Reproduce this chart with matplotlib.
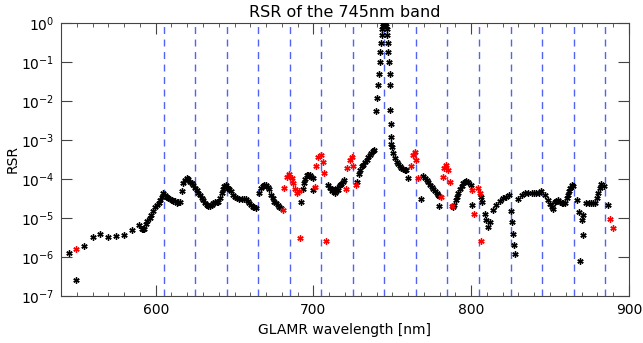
import numpy as np
import matplotlib.pyplot as plt
from matplotlib.ticker import FixedLocator, MultipleLocator, NullLocator, LogFormatterSciNotation

plt.rcParams.update({'font.size': 10, 'font.family': 'DejaVu Sans'})

# relative spectral response
black_wl = [545.0, 549.5, 554.8, 560.1, 564.9, 569.8, 574.9, 580.1, 584.8, 589.6,
            591.1, 591.8, 592.8, 593.9, 594.7, 596.4, 597.3, 598.1, 599.6, 601.0,
            602.3, 602.7, 603.8, 604.8, 606.0, 607.0, 608.0, 609.1, 610.2, 611.2,
            612.3, 613.3, 614.4, 615.4, 616.5, 617.5, 618.6, 619.7, 620.7, 621.7,
            622.7, 623.8, 624.9, 626.0, 627.0, 628.1, 629.1, 630.2, 631.2, 632.3,
            633.3, 634.4, 635.4, 636.5, 637.5, 638.6, 639.7, 640.7, 641.8, 642.9,
            643.6, 644.6, 645.6, 646.7, 647.7, 648.8, 650.0, 651.3, 652.9, 654.5,
            655.8, 657.2, 658.3, 659.3, 660.4, 661.5, 662.5, 663.6, 665.7, 666.7,
            667.8, 668.9, 669.9, 671.0, 672.0, 673.1, 674.2, 675.2, 676.2, 677.3,
            678.3, 679.4, 692.1, 693.2, 694.0, 694.8, 695.7, 696.7, 697.8, 698.7,
            699.5, 699.9, 709.4, 710.4, 711.5, 712.0, 712.6, 713.5, 714.0, 714.7,
            715.5, 716.8, 717.8, 718.9, 719.5, 727.8, 728.7, 729.5, 730.5, 731.6,
            732.6, 733.7, 734.7, 735.8, 736.8, 737.9, 738.4, 739.4,
            740.5, 741.0, 741.5, 742.0, 742.4, 742.8, 743.2, 743.6, 744.0, 744.4,
            744.8, 745.2, 745.6, 746.0, 746.4, 746.8, 747.2, 747.6, 748.0, 748.3,
            748.5, 748.5, 748.9, 749.2, 749.5, 750.0, 750.6, 751.6, 752.7, 753.7,
            754.8, 755.8, 756.9, 758.0, 759.0, 759.7, 767.9, 769.6, 770.6, 771.7,
            772.8, 773.8, 774.9, 776.0, 777.0, 778.1, 779.0, 779.7, 779.7, 788.6,
            789.4, 790.3, 791.0, 791.8, 792.8, 793.9, 795.0, 796.0, 797.0, 798.1,
            799.6, 800.8, 806.0, 807.0, 808.5, 809.5, 810.5, 812.0, 814.0, 816.0,
            818.0, 820.0, 822.0, 824.0, 825.5, 826.0, 826.5, 827.0, 828.0, 830.0,
            832.0, 834.0, 836.0, 838.3, 839.8, 841.4, 843.0, 844.6, 846.7, 848.8,
            850.0, 851.0, 852.0, 853.0, 854.1, 855.2, 856.3, 857.3, 858.4, 859.4,
            860.5, 861.3, 862.1, 862.9, 863.7, 864.7, 867.2, 868.5, 868.9, 870.4,
            871.0, 871.0, 873.1, 874.7, 876.3, 877.4, 878.4, 879.5, 880.5, 881.6,
            882.6, 884.1, 886.8]
black_rsr = [1.25e-6, 2.5e-7, 1.9e-6, 3.2e-6, 3.8e-6, 3.2e-6, 3.5e-6, 3.6e-6, 4.8e-6, 6.6e-6,
             5.2e-6, 5.2e-6, 5.2e-6, 7.2e-6, 8.5e-6, 1.0e-5, 1.2e-5, 1.5e-5, 1.86e-5, 2.2e-5,
             2.45e-5, 2.9e-5, 3.5e-5, 4.3e-5, 3.9e-5, 3.5e-5, 3.2e-5, 3.0e-5, 2.9e-5, 2.75e-5,
             2.8e-5, 2.45e-5, 2.5e-5, 2.6e-5, 4.8e-5, 7.8e-5, 9.3e-5, 1.05e-4, 1.0e-4, 8.5e-5,
             7.8e-5, 7.1e-5, 6.0e-5, 5.2e-5, 4.5e-5, 3.9e-5, 3.3e-5, 2.9e-5, 2.4e-5, 2.1e-5,
             2.0e-5, 2.0e-5, 2.2e-5, 2.4e-5, 2.5e-5, 2.6e-5, 2.6e-5, 3.2e-5, 4.3e-5, 5.5e-5,
             6.6e-5, 7.1e-5, 6.0e-5, 5.5e-5, 4.8e-5, 3.9e-5, 3.5e-5, 3.2e-5, 3.0e-5, 3.0e-5,
             3.0e-5, 3.0e-5, 2.7e-5, 2.4e-5, 2.1e-5, 1.95e-5, 1.86e-5, 1.78e-5, 4.3e-5, 5.8e-5,
             6.6e-5, 7.1e-5, 7.2e-5, 6.3e-5, 5.5e-5, 4.0e-5, 3.2e-5, 2.6e-5, 2.4e-5, 2.1e-5,
             1.95e-5, 1.8e-5, 2.6e-5, 5.5e-5, 8.1e-5, 1.0e-4, 1.26e-4, 1.3e-4, 1.26e-4, 1.15e-4,
             1.05e-4, 5.2e-5, 7.1e-5, 6.0e-5, 5.5e-5, 4.8e-5, 5.2e-5, 4.5e-5, 5.0e-5, 5.8e-5,
             5.3e-5, 7.1e-5, 7.5e-5, 8.5e-5, 9.3e-5, 8.5e-5, 1.35e-4, 1.7e-4, 2.1e-4, 2.3e-4,
             2.7e-4, 3.1e-4, 3.6e-4, 4.2e-4, 4.6e-4, 5.2e-4, 5.4e-4, 5.5e-3,
             1.2e-2, 2.5e-2, 5.0e-2, 1.0e-1, 1.8e-1, 3.0e-1, 5.0e-1, 7.0e-1, 0.85, 0.95,
             1.0, 1.0, 0.95, 0.85, 0.7, 0.5, 0.3, 0.18, 0.1, 5.0e-2,
             2.5e-2, 5.9e-3, 2.6e-3, 1.2e-3, 8.1e-4, 6.5e-4, 4.6e-4, 3.5e-4, 2.8e-4, 2.4e-4,
             2.1e-4, 1.9e-4, 1.8e-4, 1.75e-4, 1.7e-4, 1.07e-4, 3.0e-5, 1.2e-4, 1.05e-4, 9.3e-5,
             8.5e-5, 7.1e-5, 6.3e-5, 5.5e-5, 4.8e-5, 4.3e-5, 3.9e-5, 3.6e-5, 2.0e-5, 1.86e-5,
             2.2e-5, 2.9e-5, 3.5e-5, 4.3e-5, 5.5e-5, 6.6e-5, 7.8e-5, 8.5e-5, 8.8e-5, 8.5e-5,
             7.1e-5, 2.2e-5, 3.5e-5, 2.6e-5, 1.3e-5, 9.0e-6, 6.0e-6, 8.0e-6, 1.6e-5, 2.2e-5,
             2.8e-5, 3.2e-5, 3.5e-5, 3.8e-5, 1.5e-5, 8.0e-6, 4.0e-6, 2.0e-6, 1.2e-6, 3.0e-5,
             4.0e-5, 4.3e-5, 4.5e-5, 4.5e-5, 4.3e-5, 4.3e-5, 4.5e-5, 4.8e-5, 3.9e-5, 2.9e-5,
             2.3e-5, 1.95e-5, 1.66e-5, 2.6e-5, 2.8e-5, 2.9e-5, 2.6e-5, 2.45e-5, 2.4e-5, 2.4e-5,
             3.2e-5, 4.0e-5, 4.8e-5, 5.8e-5, 7.1e-5, 6.6e-5, 2.9e-5, 1.45e-5, 7.9e-7, 8.9e-6,
             1.2e-5, 3.6e-6, 2.45e-5, 2.4e-5, 2.4e-5, 2.45e-5, 2.45e-5, 3.2e-5, 4.3e-5, 5.8e-5,
             7.4e-5, 6.6e-5, 2.1e-5]

red_wl = [549.5, 680.5, 681.5, 683.0, 684.5, 686.2, 687.2, 688.3, 689.3, 691.0,
          691.5, 701.0, 701.6, 703.1, 704.6, 705.8, 706.9, 707.9, 720.6, 721.4,
          723.1, 724.2, 725.2, 726.9, 761.8, 763.3, 764.3, 765.3, 766.4, 781.2,
          781.9, 782.9, 784.0, 785.5, 786.5, 787.6, 800.8, 801.6, 804.5, 805.5,
          806.3, 888.3, 890.0]
red_rsr = [1.6e-6, 1.62e-5, 6.0e-5, 1.15e-4, 1.35e-4, 1.05e-4, 7.8e-5, 5.5e-5, 4.5e-5, 5.0e-5,
           3.0e-6, 6.3e-5, 2.1e-4, 3.7e-4, 4.2e-4, 2.8e-4, 1.4e-4, 2.5e-6, 5.5e-5, 1.9e-4,
           3.1e-4, 3.6e-4, 2.1e-4, 7.2e-5, 2.2e-4, 4.2e-4, 4.8e-4, 3.1e-4, 1.07e-4, 3.5e-5,
           1.1e-4, 1.9e-4, 2.3e-4, 1.7e-4, 8.5e-5, 2.0e-5, 5.2e-5, 1.26e-5, 5.8e-5, 4.5e-5,
           2.5e-6, 9.3e-6, 5.6e-6]

band_edges = [605, 625, 645, 665, 685, 705, 725, 745, 765, 785, 805, 825, 845, 865, 885]

fig = plt.figure(figsize=(6.43, 3.43), dpi=100)
ax = fig.add_axes([0.095, 0.137, 0.883, 0.796])

for b in band_edges:
    ax.axvline(b, color="#5163f0", lw=1.0, ls=(0, (5, 4)), zorder=1)

star = (6, 2, 0)
ax.plot(black_wl, black_rsr, ls="none", marker=star, ms=4.5, mew=1.0, mec="black", zorder=3)
ax.plot(red_wl, red_rsr, ls="none", marker=star, ms=4.5, mew=1.0, mec="red", zorder=4)

ax.set_yscale("log")
ax.set_xlim(540, 900)
ax.set_ylim(1e-7, 1)
ax.xaxis.set_major_locator(FixedLocator([600, 700, 800, 900]))
ax.xaxis.set_minor_locator(MultipleLocator(10))
ax.yaxis.set_major_locator(FixedLocator([10.0**k for k in range(-7, 1)]))
ax.yaxis.set_major_formatter(LogFormatterSciNotation())
ax.yaxis.set_minor_locator(NullLocator())
ax.tick_params(which="both", direction="in", top=True, right=True, color="#444444")
ax.tick_params(which="major", length=8, labelsize=10, pad=5)
ax.tick_params(which="minor", length=3)
for s in ax.spines.values():
    s.set_color("#444444")

ax.set_title("RSR of the 745nm band", fontsize=11.5, pad=4)
ax.set_xlabel("GLAMR wavelength [nm]", fontsize=10)
ax.set_ylabel("RSR", fontsize=10, labelpad=1)

fig.savefig("out.png", dpi=100)
